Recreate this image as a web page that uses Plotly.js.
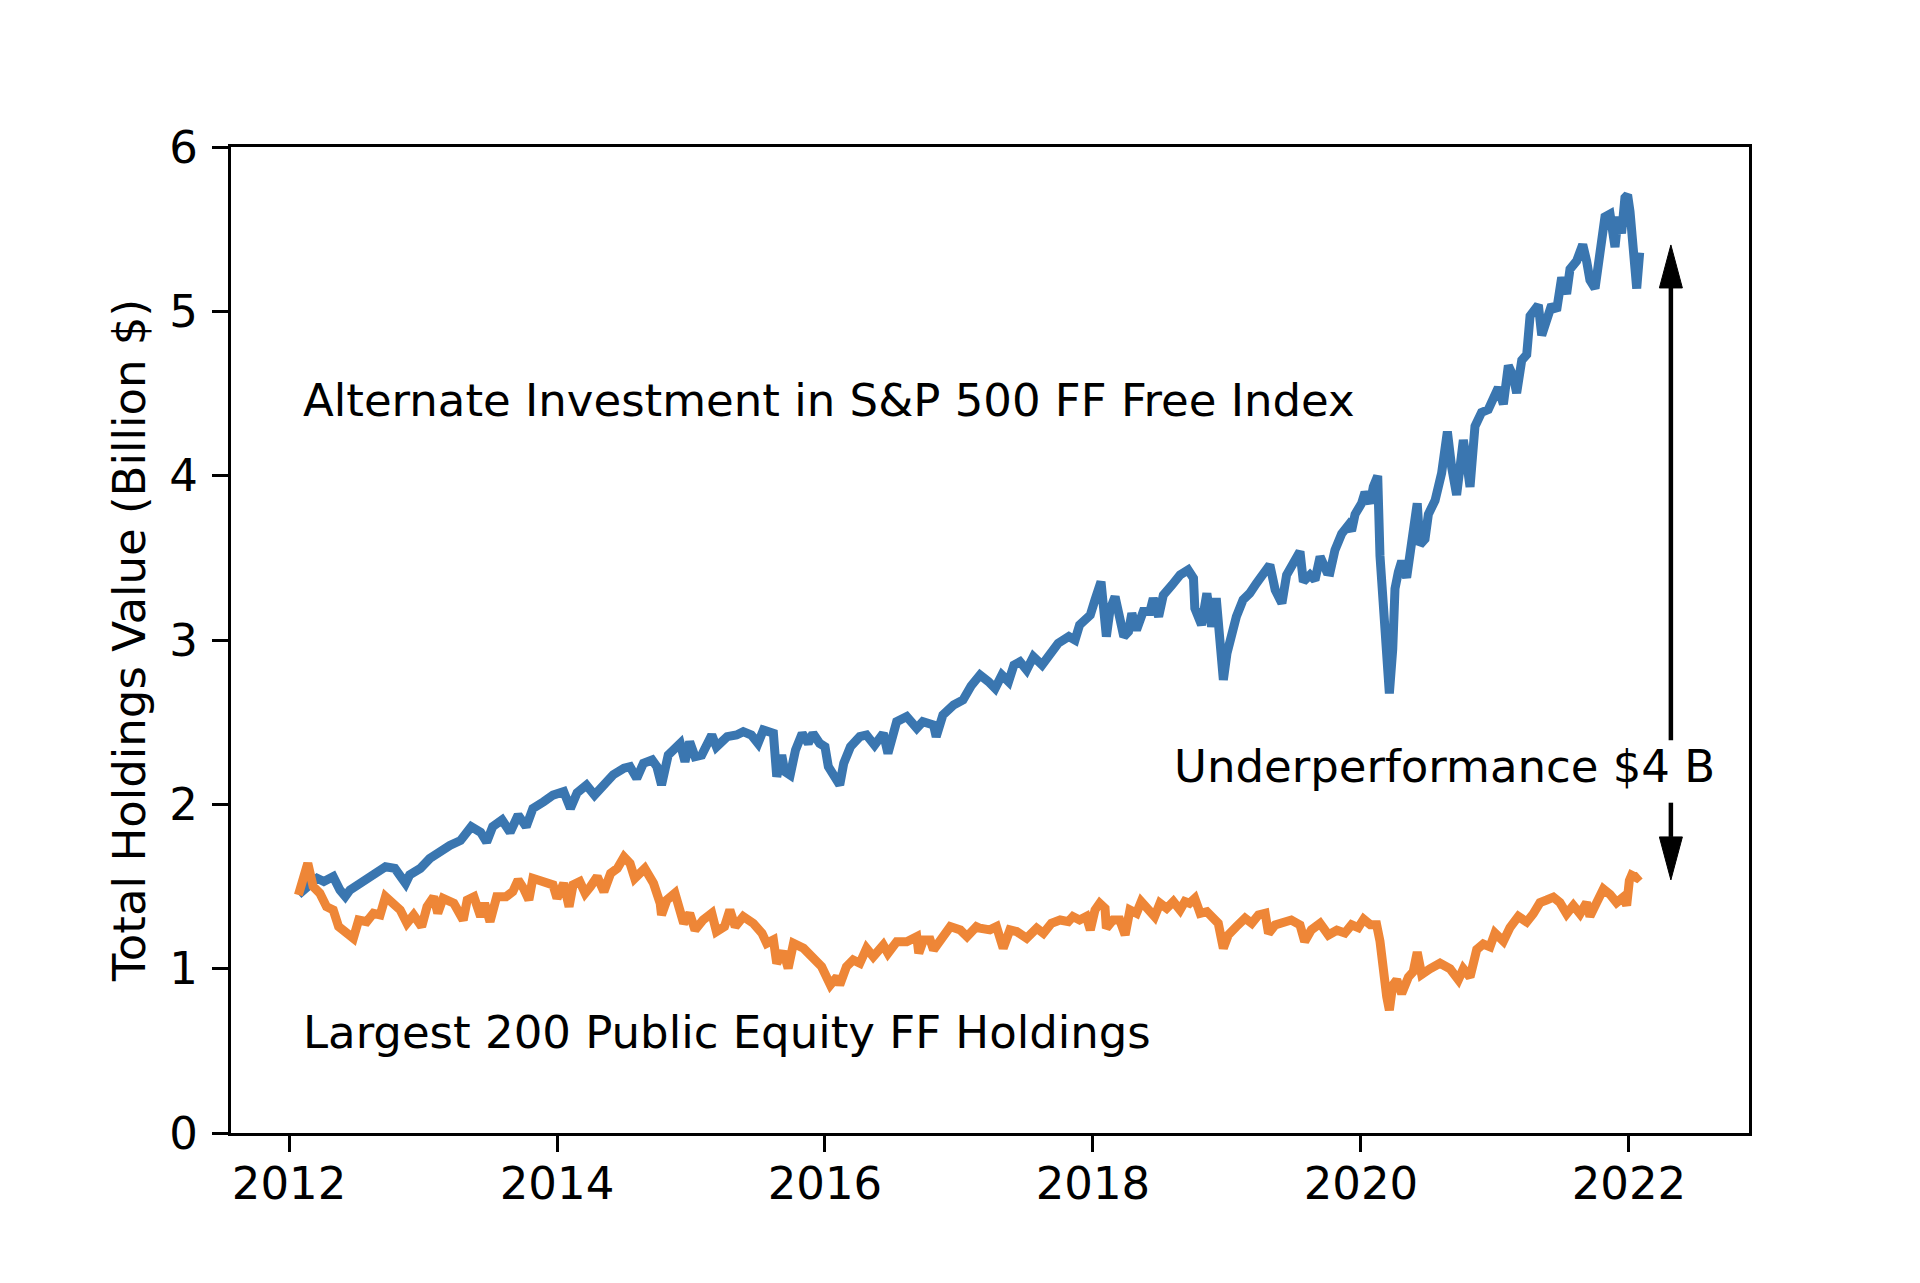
<!DOCTYPE html>
<html>
<head>
<meta charset="utf-8">
<script src="https://cdn.plot.ly/plotly-3.0.1.min.js"></script>
<style>
  html, body { margin: 0; padding: 0; background: #fff; }
  #chart { width: 1920px; height: 1283px; }
</style>
</head>
<body>
<div id="chart"></div>
<script>
// S&P 500 fossil-free alternative (decimal years, billion $)
var spYears = [
  2012.07, 2012.107, 2012.157, 2012.21, 2012.26, 2012.31, 2012.33, 2012.38, 2012.42, 2012.455,
  2012.53, 2012.60, 2012.68, 2012.72, 2012.79, 2012.87, 2012.90, 2012.98, 2013.05, 2013.13,
  2013.20, 2013.28, 2013.36, 2013.43, 2013.475, 2013.52, 2013.59, 2013.65, 2013.71, 2013.77,
  2013.82, 2013.90, 2013.97, 2014.05, 2014.10, 2014.15, 2014.22, 2014.28, 2014.35, 2014.42,
  2014.50, 2014.545, 2014.595, 2014.645, 2014.71, 2014.745, 2014.78, 2014.83, 2014.92, 2014.955,
  2014.99, 2015.03, 2015.08, 2015.155, 2015.19, 2015.27, 2015.34, 2015.39, 2015.45, 2015.50,
  2015.54, 2015.59, 2015.615, 2015.64, 2015.677, 2015.70, 2015.74, 2015.78, 2015.83, 2015.875,
  2015.91, 2015.96, 2016.00, 2016.025, 2016.06, 2016.11, 2016.14, 2016.19, 2016.26, 2016.31,
  2016.37, 2016.435, 2016.47, 2016.51, 2016.535, 2016.61, 2016.685, 2016.73, 2016.81, 2016.83,
  2016.88, 2016.96, 2017.03, 2017.09, 2017.157, 2017.22, 2017.27, 2017.32, 2017.37, 2017.41,
  2017.455, 2017.505, 2017.555, 2017.62, 2017.68, 2017.74, 2017.82, 2017.866, 2017.90, 2017.98,
  2018.015, 2018.06, 2018.10, 2018.127, 2018.165, 2018.20, 2018.23, 2018.265, 2018.29, 2018.325,
  2018.375, 2018.425, 2018.45, 2018.49, 2018.525, 2018.59, 2018.65, 2018.71, 2018.75, 2018.76,
  2018.81, 2018.85, 2018.885, 2018.92, 2018.94, 2018.973, 2019.00, 2019.035, 2019.07, 2019.12,
  2019.17, 2019.22, 2019.27, 2019.32, 2019.36, 2019.41, 2019.445, 2019.495, 2019.545, 2019.57,
  2019.62, 2019.657, 2019.695, 2019.745, 2019.769, 2019.806, 2019.856, 2019.906, 2019.93, 2019.956,
  2020.005, 2020.03, 2020.07, 2020.092, 2020.125, 2020.142, 2020.167, 2020.187, 2020.212, 2020.237,
  2020.254, 2020.279, 2020.304, 2020.341, 2020.366, 2020.39, 2020.42, 2020.44, 2020.478, 2020.503,
  2020.553, 2020.602, 2020.645, 2020.677, 2020.714, 2020.739, 2020.764, 2020.789, 2020.814, 2020.851,
  2020.90, 2020.95, 2020.988, 2021.025, 2021.063, 2021.10, 2021.137, 2021.162, 2021.20, 2021.237,
  2021.262, 2021.324, 2021.349, 2021.386, 2021.423, 2021.46, 2021.498, 2021.535, 2021.56, 2021.61,
  2021.655, 2021.684, 2021.709, 2021.747, 2021.772, 2021.796, 2021.821, 2021.859, 2021.896, 2021.92,
  2021.945, 2021.97, 2021.99, 2022.008, 2022.033, 2022.058, 2022.08
];
var spValues = [
  1.45, 1.479, 1.519, 1.55, 1.53, 1.55, 1.56, 1.479, 1.44, 1.479,
  1.519, 1.55, 1.59, 1.62, 1.61, 1.519, 1.57, 1.61, 1.67, 1.72,
  1.75, 1.78, 1.864, 1.83, 1.77, 1.864, 1.905, 1.83, 1.935, 1.864,
  1.975, 2.016, 2.056, 2.077, 1.975, 2.07, 2.117, 2.056, 2.117, 2.18,
  2.22, 2.229, 2.158, 2.25, 2.27, 2.23, 2.118, 2.30, 2.371, 2.26,
  2.381, 2.29, 2.30, 2.422, 2.35, 2.412, 2.422, 2.442, 2.422, 2.371,
  2.452, 2.432, 2.432, 2.168, 2.30, 2.199, 2.178, 2.33, 2.432, 2.371,
  2.432, 2.371, 2.35, 2.229, 2.178, 2.118, 2.25, 2.35, 2.412, 2.422,
  2.36, 2.432, 2.31, 2.432, 2.503, 2.534, 2.463, 2.503, 2.483, 2.412,
  2.544, 2.605, 2.635, 2.72, 2.787, 2.747, 2.706, 2.787, 2.747, 2.848,
  2.868, 2.818, 2.899, 2.848, 2.919, 2.98, 3.021, 3.00, 3.092, 3.152,
  3.244, 3.355, 3.021, 3.183, 3.264, 3.142, 3.021, 3.051, 3.163, 3.061,
  3.173, 3.173, 3.254, 3.142, 3.274, 3.335, 3.396, 3.426, 3.376, 3.193,
  3.092, 3.284, 3.081, 3.254, 3.041, 2.757, 2.919, 3.061, 3.142, 3.244,
  3.284, 3.345, 3.406, 3.457, 3.305, 3.223, 3.396, 3.477, 3.538, 3.355,
  3.396, 3.365, 3.507, 3.416, 3.413, 3.547, 3.647, 3.698, 3.664, 3.765,
  3.832, 3.899, 3.832, 3.932, 3.999, 3.513, 3.245, 2.91, 2.675, 2.943,
  3.312, 3.413, 3.48, 3.379, 3.513, 3.631, 3.832, 3.58, 3.614, 3.765,
  3.849, 4.016, 4.268, 4.05, 3.882, 4.05, 4.217, 4.083, 3.932, 4.301,
  4.385, 4.402, 4.485, 4.536, 4.435, 4.67, 4.603, 4.502, 4.703, 4.737,
  4.972, 5.039, 4.854, 4.955, 5.039, 5.005, 5.206, 5.106, 5.257, 5.307,
  5.407, 5.307, 5.19, 5.139, 5.29, 5.424, 5.575, 5.592, 5.391, 5.575,
  5.474, 5.692, 5.709, 5.608, 5.357, 5.139, 5.357
];

// Largest 200 public equity fossil-fuel holdings
var ffYears = [
  2012.07, 2012.14, 2012.18, 2012.23, 2012.28, 2012.33, 2012.37, 2012.43, 2012.48, 2012.52,
  2012.58, 2012.63, 2012.68, 2012.72, 2012.78, 2012.83, 2012.88, 2012.93, 2012.99, 2013.03,
  2013.08, 2013.11, 2013.15, 2013.23, 2013.30, 2013.33, 2013.38, 2013.43, 2013.46, 2013.50,
  2013.55, 2013.62, 2013.67, 2013.71, 2013.75, 2013.79, 2013.82, 2013.90, 2013.97, 2014.00,
  2014.05, 2014.09, 2014.12, 2014.17, 2014.21, 2014.25, 2014.30, 2014.35, 2014.40, 2014.45,
  2014.50, 2014.545, 2014.58, 2014.655, 2014.72, 2014.77, 2014.78, 2014.82, 2014.88, 2014.945,
  2014.99, 2015.03, 2015.09, 2015.155, 2015.19, 2015.25, 2015.29, 2015.33, 2015.39, 2015.465,
  2015.53, 2015.565, 2015.615, 2015.64, 2015.69, 2015.725, 2015.765, 2015.84, 2015.915, 2015.975,
  2016.04, 2016.09, 2016.11, 2016.16, 2016.21, 2016.26, 2016.31, 2016.36, 2016.435, 2016.47,
  2016.535, 2016.61, 2016.685, 2016.70, 2016.735, 2016.785, 2016.81, 2016.86, 2016.935, 2017.01,
  2017.06, 2017.13, 2017.157, 2017.23, 2017.28, 2017.33, 2017.38, 2017.43, 2017.505, 2017.58,
  2017.63, 2017.69, 2017.755, 2017.816, 2017.85, 2017.90, 2017.95, 2017.98, 2018.015, 2018.05,
  2018.09, 2018.10, 2018.15, 2018.20, 2018.24, 2018.276, 2018.325, 2018.36, 2018.413, 2018.46,
  2018.50, 2018.55, 2018.60, 2018.65, 2018.686, 2018.72, 2018.76, 2018.80, 2018.85, 2018.90,
  2018.935, 2018.973, 2019.01, 2019.07, 2019.135, 2019.185, 2019.235, 2019.285, 2019.31, 2019.36,
  2019.42, 2019.48, 2019.545, 2019.58, 2019.63, 2019.695, 2019.757, 2019.82, 2019.88, 2019.93,
  2019.98, 2020.02, 2020.07, 2020.117, 2020.142, 2020.167, 2020.192, 2020.212, 2020.237, 2020.267,
  2020.304, 2020.354, 2020.39, 2020.42, 2020.453, 2020.515, 2020.59, 2020.665, 2020.727, 2020.764,
  2020.814, 2020.864, 2020.913, 2020.963, 2021.00, 2021.063, 2021.112, 2021.175, 2021.237, 2021.286,
  2021.336, 2021.386, 2021.436, 2021.485, 2021.535, 2021.585, 2021.635, 2021.684, 2021.709, 2021.759,
  2021.809, 2021.859, 2021.908, 2021.958, 2021.983, 2022.003, 2022.02, 2022.058, 2022.08
];
var ffValues = [
  1.448, 1.641, 1.50, 1.459, 1.377, 1.357, 1.256, 1.225, 1.185, 1.296,
  1.286, 1.337, 1.327, 1.438, 1.398, 1.357, 1.276, 1.327, 1.256, 1.377,
  1.438, 1.337, 1.428, 1.398, 1.296, 1.418, 1.438, 1.317, 1.398, 1.286,
  1.438, 1.438, 1.469, 1.54, 1.489, 1.418, 1.55, 1.53, 1.51, 1.428,
  1.519, 1.377, 1.51, 1.53, 1.459, 1.50, 1.56, 1.469, 1.58, 1.61,
  1.68, 1.641, 1.55, 1.61, 1.52, 1.398, 1.327, 1.418, 1.459, 1.276,
  1.337, 1.235, 1.296, 1.337, 1.225, 1.256, 1.357, 1.256, 1.317, 1.276,
  1.215, 1.154, 1.175, 1.033, 1.104, 1.002, 1.154, 1.124, 1.053, 1.012,
  0.901, 0.951, 0.901, 1.012, 1.053, 1.033, 1.124, 1.073, 1.144, 1.094,
  1.164, 1.164, 1.195, 1.094, 1.175, 1.175, 1.114, 1.175, 1.256, 1.235,
  1.195, 1.256, 1.246, 1.236, 1.256, 1.124, 1.236, 1.226, 1.185, 1.246,
  1.215, 1.276, 1.296, 1.286, 1.317, 1.296, 1.317, 1.236, 1.357, 1.398,
  1.367, 1.246, 1.296, 1.296, 1.205, 1.357, 1.337, 1.408, 1.367, 1.317,
  1.398, 1.367, 1.408, 1.357, 1.408, 1.398, 1.428, 1.337, 1.347, 1.307,
  1.276, 1.124, 1.205, 1.256, 1.307, 1.276, 1.327, 1.337, 1.215, 1.266,
  1.276, 1.296, 1.266, 1.165, 1.236, 1.276, 1.205, 1.234, 1.217, 1.267,
  1.25, 1.301, 1.267, 1.267, 1.167, 0.965, 0.831, 0.748, 0.899, 0.932,
  0.848, 0.949, 0.982, 1.10, 0.965, 0.999, 1.033, 0.999, 0.932, 0.999,
  0.949, 1.116, 1.15, 1.133, 1.217, 1.167, 1.25, 1.318, 1.284, 1.334,
  1.402, 1.418, 1.435, 1.402, 1.334, 1.385, 1.334, 1.402, 1.318, 1.402,
  1.485, 1.452, 1.402, 1.435, 1.385, 1.536, 1.569, 1.553, 1.569
];

var yearTicks = [2012, 2014, 2016, 2018, 2020, 2022];
var valueTicks = [0, 1, 2, 3, 4, 5, 6];

// axis window and plot box
var xRange = [2011.567, 2022.896];
var yRange = [0, 6];
var margin = {l: 231, r: 171, t: 147, b: 150};
var plotW = 1920 - margin.l - margin.r;
var plotH = 1283 - margin.t - margin.b;

// double arrow showing the gap, split around its label
var arrowX = 2022.313;
var arrowTop = 5.404, arrowBottom = 1.54;
var gapTop = 2.39, gapBottom = 2.01;
var headLen = 43 * (yRange[1] - yRange[0]) / plotH;
var headHalf = 11.5 * (xRange[1] - xRange[0]) / plotW;

var font = {family: 'DejaVu Sans, sans-serif', size: 45, color: '#000'};

var traces = [
  {
    x: spYears, y: spValues, type: 'scatter', mode: 'lines',
    line: {color: '#3a76b0', width: 9},
    name: 'Alternate Investment in S&P 500 FF Free Index'
  },
  {
    x: ffYears, y: ffValues, type: 'scatter', mode: 'lines',
    line: {color: '#ee8637', width: 9},
    name: 'Largest 200 Public Equity FF Holdings'
  }
];

var shapes = [
  {type: 'line', xref: 'x', yref: 'y', x0: arrowX, x1: arrowX, y0: gapTop, y1: arrowTop - headLen,
   line: {color: '#000', width: 4.5}},
  {type: 'path', xref: 'x', yref: 'y',
   path: 'M' + (arrowX - headHalf) + ',' + (arrowTop - headLen) + ' L' + arrowX + ',' + arrowTop +
         ' L' + (arrowX + headHalf) + ',' + (arrowTop - headLen) + ' Z',
   fillcolor: '#000', line: {color: '#000', width: 1}},
  {type: 'line', xref: 'x', yref: 'y', x0: arrowX, x1: arrowX, y0: gapBottom, y1: arrowBottom + headLen,
   line: {color: '#000', width: 4.5}},
  {type: 'path', xref: 'x', yref: 'y',
   path: 'M' + (arrowX - headHalf) + ',' + (arrowBottom + headLen) + ' L' + arrowX + ',' + arrowBottom +
         ' L' + (arrowX + headHalf) + ',' + (arrowBottom + headLen) + ' Z',
   fillcolor: '#000', line: {color: '#000', width: 1}}
];

var annotations = [
  {x: 2012.09, y: 4.46, xref: 'x', yref: 'y', xanchor: 'left', yanchor: 'middle', showarrow: false,
   text: 'Alternate Investment in S&P 500 FF Free Index', font: font},
  {x: 2012.09, y: 0.61, xref: 'x', yref: 'y', xanchor: 'left', yanchor: 'middle', showarrow: false,
   text: 'Largest 200 Public Equity FF Holdings', font: font},
  {x: 2018.59, y: 2.23, xref: 'x', yref: 'y', xanchor: 'left', yanchor: 'middle', showarrow: false,
   text: 'Underperformance $4 B', font: font}
];

var axisStyle = {
  showgrid: false, zeroline: false,
  showline: true, linecolor: '#000', linewidth: 3, mirror: true,
  ticks: 'outside', ticklen: 16, tickwidth: 3, tickcolor: '#000',
  tickfont: font
};

var layout = {
  width: 1920, height: 1283,
  margin: margin,
  paper_bgcolor: '#fff', plot_bgcolor: '#fff',
  showlegend: false,
  font: font,
  xaxis: Object.assign({}, axisStyle, {
    range: xRange, tickvals: yearTicks, ticktext: yearTicks.map(String),
    ticklabelstandoff: -7
  }),
  yaxis: Object.assign({}, axisStyle, {
    range: yRange, tickvals: valueTicks, ticktext: valueTicks.map(String),
    ticklabelstandoff: 5,
    title: {text: 'Total Holdings Value (Billion $)', font: font, standoff: 10}
  }),
  shapes: shapes,
  annotations: annotations
};

Plotly.newPlot('chart', traces, layout, {displayModeBar: false, staticPlot: true});
</script>
</body>
</html>
